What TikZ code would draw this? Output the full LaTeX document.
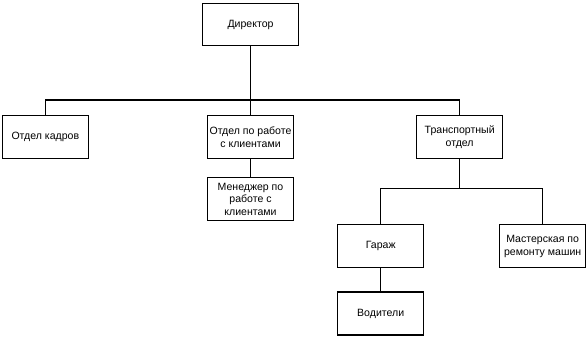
\documentclass[tikz,border=0pt]{standalone}
\usepackage{fontspec}
\setmainfont{Liberation Sans}
\usepackage{tikz}
\usetikzlibrary{positioning}
\tikzset{
  unit/.style={
    rectangle, draw=black, line width=1pt, fill=white,
    minimum width=2.58cm, minimum height=1.29cm, align=center,
    inner sep=1pt, font=\fontsize{9}{10.6}\selectfont
  },
  head/.style={unit, minimum width=2.88cm, minimum height=1.26cm},
  link/.style={draw=black, line width=1pt}
}
\begin{document}
\begin{tikzpicture}
  \useasboundingbox (0,0) rectangle (17.64,-10.14);

  \node[head] (dir) at (7.515,-0.735) {Директор};

  \node[unit, below=2.07cm of dir] (clients)
    {Отдел по работе\\с клиентами};
  \node[unit, left=3.54cm of clients] (hr)
    {Отдел кадров};
  \node[unit, right=3.66cm of clients] (trans)
    {Транспортный\\отдел};

  \node[unit, below=0.54cm of clients] (mgr)
    {Менеджер по\\работе с\\клиентами};

  \node[unit, below=1.95cm of trans, xshift=-2.37cm] (garage)
    {Гараж};
  \node[unit, below=1.95cm of trans, xshift=2.49cm] (repair)
    {Мастерская по\\ремонту машин};
  \node[unit, below=0.69cm of garage] (drivers)
    {Водители};

  \coordinate[below=1.62cm of dir.south] (bus);
  \coordinate[below=0.87cm of trans.south] (tbus);

  \draw[link] (dir) -- (clients);
  \draw[link] (hr.north) |- (bus) -| (trans.north);
  \draw[link] (clients) -- (mgr);

  \draw[link] (trans) -- (tbus);
  \draw[link] (garage.north) |- (tbus) -| (repair.north);
  \draw[link] (garage) -- (drivers);
\end{tikzpicture}
\end{document}
